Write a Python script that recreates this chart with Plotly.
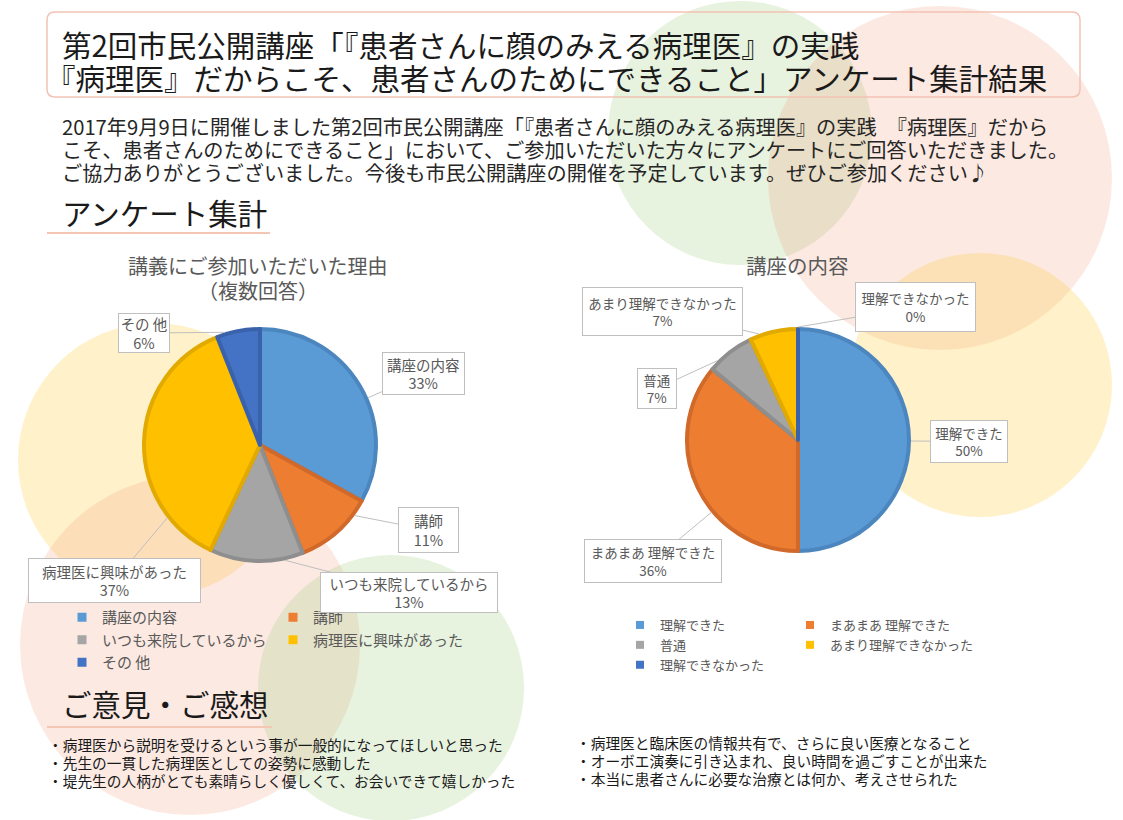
import math
import plotly.graph_objects as go

W, H = 1123, 820
FONT = "Noto Sans CJK JP"

# ---------------- data ----------------
reason_labels = ["講座の内容", "講師", "いつも来院しているから", "病理医に興味があった", "その 他"]
reason_values = [33, 11, 13, 37, 6]

content_labels = ["理解できた", "まあまあ 理解できた", "普通", "あまり理解できなかった", "理解できなかった"]
content_values = [50, 36, 7, 7, 0]

slice_colors = ["#5B9BD5", "#ED7D31", "#A5A5A5", "#FFC000", "#4472C4"]
edge_colors = ["#4C86BE", "#D0692A", "#8E8E8E", "#E2A900", "#3A62AB"]

title_lines = [
    "第2回市民公開講座「『患者さんに顔のみえる病理医』の実践",
    "『病理医』だからこそ、患者さんのためにできること」アンケート集計結果",
]
intro_lines = [
    "2017年9月9日に開催しました第2回市民公開講座「『患者さんに顔のみえる病理医』の実践　『病理医』だから",
    "こそ、患者さんのためにできること」において、ご参加いただいた方々にアンケートにご回答いただきました。",
    "ご協力ありがとうございました。今後も市民公開講座の開催を予定しています。ぜひご参加ください♪",
]
section_titles = ["アンケート集計", "ご意見・ご感想"]
chart1_title = ["講義にご参加いただいた理由", "（複数回答）"]
chart2_title = ["講座の内容"]
opinions_left = [
    "・病理医から説明を受けるという事が一般的になってほしいと思った",
    "・先生の一貫した病理医としての姿勢に感動した",
    "・堤先生の人柄がとても素晴らしく優しくて、お会いできて嬉しかった",
]
opinions_right = [
    "・病理医と臨床医の情報共有で、さらに良い医療となること",
    "・オーボエ演奏に引き込まれ、良い時間を過ごすことが出来た",
    "・本当に患者さんに必要な治療とは何か、考えさせられた",
]

# ---------------- layout geometry (pixels) ----------------
pie1_center, pie1_radius = (260, 445), 118
pie2_center, pie2_radius = (798, 440), 113
edge_width = 4

# label boxes: (center x, center y, width, height)
pie1_boxes = [(423.5, 373.5, 83, 43), (428.5, 530, 61, 46), (409, 592.5, 178, 41),
              (114.5, 580.5, 173, 45), (144, 333, 52, 40)]
pie2_boxes = [(969, 441.5, 78, 43), (653, 561, 138, 44), (657, 388.5, 40, 41),
              (662.5, 311.5, 161, 49), (915.5, 307, 121, 50)]

# decorative circles: (cx, cy, r, rgba)
circles = [
    (740, 133, 132, "rgba(170,210,140,0.28)"),
    (940, 178, 172, "rgba(240,150,120,0.21)"),
    (980, 385, 132, "rgba(255,208,80,0.30)"),
    (155, 460, 137, "rgba(255,208,80,0.30)"),
    (190, 645, 170, "rgba(240,150,120,0.21)"),
    (391, 688, 133, "rgba(170,210,140,0.28)"),
]


def px(x):
    return x / W


def py(y):
    return 1 - y / H


fig = go.Figure()


def add_pie(labels, values, center, radius):
    r = radius - edge_width / 2
    cx, cy = center
    fig.add_trace(go.Pie(
        labels=labels, values=values, sort=False, direction="clockwise", rotation=0,
        textinfo="none", showlegend=False, hoverinfo="label+percent",
        marker=dict(colors=slice_colors, line=dict(color=edge_colors, width=edge_width)),
        domain=dict(x=[px(cx - r), px(cx + r)], y=[py(cy + r), py(cy - r)]),
    ))


add_pie(reason_labels, reason_values, pie1_center, pie1_radius)
add_pie(content_labels, content_values, pie2_center, pie2_radius)

# legend entries (two columns per chart, via legend groups)
for i, (lab, col) in enumerate(zip(reason_labels, slice_colors)):
    fig.add_trace(go.Scatter(x=[None], y=[None], mode="markers", name=lab,
                             marker=dict(symbol="square", size=9, color=col),
                             legend="legend", legendgroup="a" if i % 2 == 0 else "b",
                             legendwidth=166 if i % 2 == 0 else 200,
                             hoverinfo="skip"))
for i, (lab, col) in enumerate(zip(content_labels, slice_colors)):
    fig.add_trace(go.Scatter(x=[None], y=[None], mode="markers", name=lab,
                             marker=dict(symbol="square", size=8, color=col),
                             legend="legend2", legendgroup="c" if i % 2 == 0 else "d",
                             legendwidth=125 if i % 2 == 0 else 200,
                             hoverinfo="skip"))

annotations = []


def text(x, y, s, size, color="#1a1a1a", xanchor="left", height=None):
    annotations.append(dict(x=px(x), y=py(y), xref="paper", yref="paper", text=s,
                            showarrow=False, xanchor=xanchor, yanchor="middle",
                            height=height,
                            font=dict(family=FONT, size=size, color=color)))


text(60, 43, title_lines[0], 29.5, height=33)
text(44, 77, title_lines[1], 29.5, height=33)
for yy, s in zip([126, 150, 173], intro_lines):
    text(60, yy, s, 20.2, color="#262626", height=22.5)
text(60, 212, section_titles[0], 29.5)
text(60, 703, section_titles[1], 29.5)
text(258, 265, chart1_title[0], 20, color="#595959", xanchor="center", height=24)
text(258, 290, chart1_title[1], 20, color="#595959", xanchor="center", height=24)
text(797, 265, chart2_title[0], 20.5, color="#595959", xanchor="center")
for yy, s in zip([744, 762, 780], opinions_left):
    text(46, yy, s, 14.7, height=17)
for yy, s in zip([742, 760, 778], opinions_right):
    text(574, yy, s, 14.7, height=17)


def add_callouts(labels, values, center, radius, boxes, size):
    cx, cy = center
    total = sum(values)
    start = 0
    for lab, v, (bx, by, bw, bh) in zip(labels, values, boxes):
        a0 = start / total * 360
        a1 = (start + v) / total * 360
        start += v
        w = a1 - a0
        lo, hi = a0 + 0.2 * w, a1 - 0.2 * w
        d = math.degrees(math.atan2(bx - cx, -(by - cy))) % 360
        if not (lo <= d <= hi):
            dl = min(abs(d - lo), 360 - abs(d - lo))
            dh = min(abs(d - hi), 360 - abs(d - hi))
            d = lo if dl <= dh else hi
        t = math.radians(d)
        tx = cx + radius * math.sin(t)
        ty = cy - radius * math.cos(t)
        pct = f"{round(v / total * 100)}%"
        annotations.append(dict(
            x=px(tx), y=py(ty), xref="paper", yref="paper",
            ax=bx - tx, ay=by - ty, axref="pixel", ayref="pixel",
            showarrow=True, arrowhead=0, arrowwidth=1, arrowcolor="#BFBFBF", standoff=0,
            text=f"{lab}<br>{pct}", align="center",
            font=dict(family=FONT, size=size, color="#595959"),
            bgcolor="white", bordercolor="#BFBFBF", borderwidth=1, borderpad=0,
            width=bw - 2, height=bh - 2,
        ))


add_callouts(reason_labels, reason_values, pie1_center, pie1_radius, pie1_boxes, 14.5)
add_callouts(content_labels, content_values, pie2_center, pie2_radius, pie2_boxes, 13.5)

shapes = []
for cx, cy, r, col in circles:
    shapes.append(dict(type="circle", xref="paper", yref="paper",
                       x0=px(cx - r), x1=px(cx + r), y0=py(cy + r), y1=py(cy - r),
                       fillcolor=col, line=dict(width=0), layer="below"))

# rounded title frame
bx0, by0, bx1, by1, rr = 47, 12, 1080, 97, 8
pts = (f"M {px(bx0 + rr)},{py(by0)} L {px(bx1 - rr)},{py(by0)} "
       f"Q {px(bx1)},{py(by0)} {px(bx1)},{py(by0 + rr)} L {px(bx1)},{py(by1 - rr)} "
       f"Q {px(bx1)},{py(by1)} {px(bx1 - rr)},{py(by1)} L {px(bx0 + rr)},{py(by1)} "
       f"Q {px(bx0)},{py(by1)} {px(bx0)},{py(by1 - rr)} L {px(bx0)},{py(by0 + rr)} "
       f"Q {px(bx0)},{py(by0)} {px(bx0 + rr)},{py(by0)} Z")
shapes.append(dict(type="path", xref="paper", yref="paper", path=pts,
                   line=dict(color="#F2C2B4", width=1.5), fillcolor="rgba(0,0,0,0)"))
# section underlines
for yy, x1 in [(233, 270), (727, 272)]:
    shapes.append(dict(type="line", xref="paper", yref="paper",
                       x0=px(47), x1=px(x1), y0=py(yy), y1=py(yy),
                       line=dict(color="#F6C6B4", width=2)))

fig.update_layout(
    width=W, height=H, margin=dict(l=0, r=0, t=0, b=0),
    paper_bgcolor="white", plot_bgcolor="rgba(0,0,0,0)",
    xaxis=dict(visible=False, range=[0, 1]), yaxis=dict(visible=False, range=[0, 1]),
    font=dict(family=FONT),
    shapes=shapes, annotations=annotations,
    legend=dict(orientation="h", traceorder="grouped", x=px(62), y=py(601),
                xanchor="left", yanchor="top", entrywidthmode="pixels",
                tracegroupgap=0, bgcolor="rgba(0,0,0,0)",
                font=dict(family=FONT, size=15, color="#595959")),
    legend2=dict(orientation="h", traceorder="grouped", x=px(620), y=py(610),
                 xanchor="left", yanchor="top", entrywidthmode="pixels",
                 tracegroupgap=0, bgcolor="rgba(0,0,0,0)",
                 font=dict(family=FONT, size=13, color="#595959")),
)

fig.write_html("out.html", config={"displayModeBar": False},
               post_script="document.body.style.margin='0';")
